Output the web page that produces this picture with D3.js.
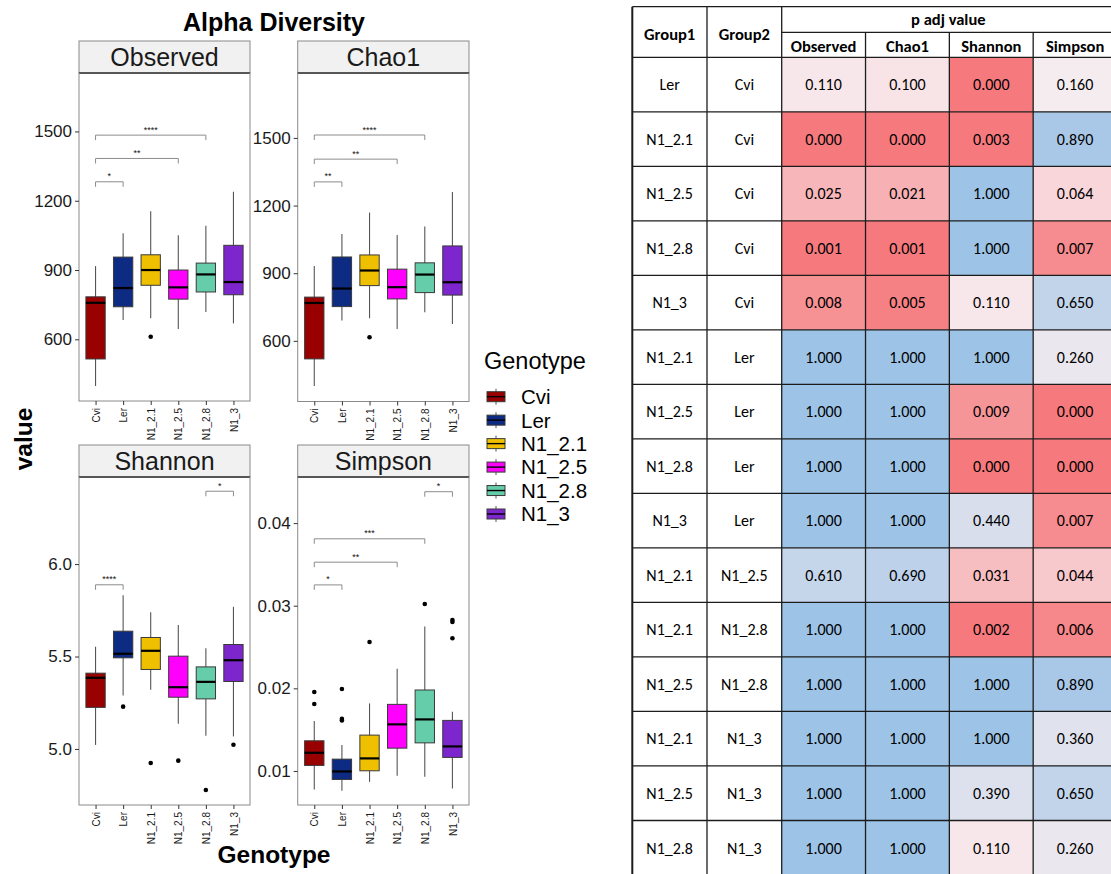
<!DOCTYPE html>
<html>
<head>
<meta charset="utf-8">
<script src="https://cdn.jsdelivr.net/npm/d3@7"></script>
<style>
  html, body { margin: 0; padding: 0; background: #fff; }
  svg { display: block; }
</style>
</head>
<body>
<svg id="fig" width="1111" height="874"></svg>
<script>
// ---- Genotypes and box statistics: [lower whisker, Q1, median, Q3, upper whisker]
const genotypes = ["Cvi", "Ler", "N1_2.1", "N1_2.5", "N1_2.8", "N1_3"];
const genotypeColors = ["#990000", "#0d2b83", "#efc000", "#ff00ff", "#66cdaa", "#7d26cd"];

const observedStats = [
  [398, 515, 758, 784, 917],
  [684, 741, 822, 956, 1059],
  [691, 834, 900, 966, 1154],
  [645, 774, 825, 900, 1051],
  [718, 805, 881, 930, 1092],
  [669, 793, 848, 1007, 1239]
];
const observedOutliers = [[], [], [611], [], [], []];
const observedSig = [["Cvi", "Ler", 1282, "*"], ["Cvi", "N1_2.5", 1383, "**"], ["Cvi", "N1_2.8", 1484, "****"]];
const observedTicks = [600, 900, 1200, 1500];
const observedDomain = [333, 1753];

const chao1Stats = [
  [400, 520, 768, 794, 932],
  [690, 752, 832, 972, 1074],
  [700, 845, 912, 981, 1169],
  [653, 786, 838, 918, 1070],
  [727, 814, 894, 946, 1107],
  [675, 803, 860, 1021, 1260]
];
const chao1Outliers = [[], [], [616], [], [], []];
const chao1Sig = [["Cvi", "Ler", 1305, "**"], ["Cvi", "N1_2.5", 1406, "**"], ["Cvi", "N1_2.8", 1513, "****"]];
const chao1Ticks = [600, 900, 1200, 1500];
const chao1Domain = [331, 1788];

const shannonStats = [
  [5.022, 5.225, 5.385, 5.410, 5.553],
  [5.289, 5.493, 5.515, 5.637, 5.832],
  [5.321, 5.430, 5.531, 5.603, 5.740],
  [5.137, 5.280, 5.334, 5.502, 5.670],
  [5.072, 5.271, 5.363, 5.444, 5.545],
  [5.068, 5.365, 5.480, 5.565, 5.769]
];
const shannonOutliers = [[], [5.229], [4.924], [4.937], [4.778], [5.023]];
const shannonSig = [["Cvi", "Ler", 5.888, "****"], ["N1_2.8", "N1_3", 6.394, "*"]];
const shannonTicks = [5.0, 5.5, 6.0];
const shannonDomain = [4.697, 6.471];

const simpsonStats = [
  [0.00776, 0.01067, 0.01220, 0.01365, 0.01604],
  [0.00759, 0.00897, 0.00994, 0.01143, 0.01313],
  [0.00868, 0.01002, 0.01152, 0.01434, 0.01818],
  [0.00941, 0.01276, 0.01564, 0.01806, 0.02238],
  [0.00929, 0.01340, 0.01624, 0.01980, 0.02747],
  [0.00788, 0.01164, 0.01297, 0.01612, 0.01717]
];
const simpsonOutliers = [[0.01955, 0.0181], [0.01992, 0.0163, 0.0161], [0.02561], [], [0.0302], [0.02828, 0.02804, 0.02606]];
const simpsonSig = [["Cvi", "Ler", 0.03252, "*"], ["Cvi", "N1_2.5", 0.03527, "**"], ["Cvi", "N1_2.8", 0.0381, "***"], ["N1_2.8", "N1_3", 0.0438, "*"]];
const simpsonTicks = [0.01, 0.02, 0.03, 0.04];
const simpsonDomain = [0.00588, 0.04558];

// ---- Pairwise comparison table (adjusted p values)
const group1 = ["Ler", "N1_2.1", "N1_2.5", "N1_2.8", "N1_3", "N1_2.1", "N1_2.5", "N1_2.8", "N1_3", "N1_2.1", "N1_2.1", "N1_2.5", "N1_2.1", "N1_2.5", "N1_2.8"];
const group2 = ["Cvi", "Cvi", "Cvi", "Cvi", "Cvi", "Ler", "Ler", "Ler", "Ler", "N1_2.5", "N1_2.8", "N1_2.8", "N1_3", "N1_3", "N1_3"];
const metricNames = ["Observed", "Chao1", "Shannon", "Simpson"];
const pObserved = [0.110, 0.000, 0.025, 0.001, 0.008, 1.000, 1.000, 1.000, 1.000, 0.610, 1.000, 1.000, 1.000, 1.000, 1.000];
const pChao1    = [0.100, 0.000, 0.021, 0.001, 0.005, 1.000, 1.000, 1.000, 1.000, 0.690, 1.000, 1.000, 1.000, 1.000, 1.000];
const pShannon  = [0.000, 0.003, 1.000, 1.000, 0.110, 1.000, 0.009, 0.000, 0.440, 0.031, 0.002, 1.000, 1.000, 0.390, 0.110];
const pSimpson  = [0.160, 0.890, 0.064, 0.007, 0.650, 0.260, 0.000, 0.000, 0.007, 0.044, 0.006, 0.890, 0.360, 0.650, 0.260];

// ---------------------------------------------------------------------------
const svg = d3.select("#fig");
const FONT = "'Liberation Sans', Arial, Helvetica, sans-serif";
const TFONT = "Carlito, Calibri, Lato, 'Liberation Sans', sans-serif";

svg.append("rect").attr("width", 1111).attr("height", 874).attr("fill", "#fff");

const panels = [
  { name: "Observed", stats: observedStats, out: observedOutliers, sig: observedSig, ticks: observedTicks, domain: observedDomain, fmt: d3.format("d"),   x0: 79,    x1: 250, top: 41,  bottom: 401 },
  { name: "Chao1",    stats: chao1Stats,    out: chao1Outliers,    sig: chao1Sig,    ticks: chao1Ticks,    domain: chao1Domain,    fmt: d3.format("d"),   x0: 297.7, x1: 469, top: 41,  bottom: 401.5 },
  { name: "Shannon",  stats: shannonStats,  out: shannonOutliers,  sig: shannonSig,  ticks: shannonTicks,  domain: shannonDomain,  fmt: d3.format(".1f"), x0: 79,    x1: 250, top: 445, bottom: 805 },
  { name: "Simpson",  stats: simpsonStats,  out: simpsonOutliers,  sig: simpsonSig,  ticks: simpsonTicks,  domain: simpsonDomain,  fmt: d3.format(".2f"), x0: 297.7, x1: 469, top: 445, bottom: 805 }
];
const STRIP = 32;

panels.forEach(p => {
  const g = svg.append("g");
  const plotTop = p.top + STRIP;
  const x = d3.scalePoint().domain(genotypes).range([p.x0, p.x1]).padding(0.6);
  const y = d3.scaleLinear().domain(p.domain).range([p.bottom, plotTop]);
  const bw = x.step() * 0.7;

  // strip
  g.append("rect").attr("x", p.x0).attr("y", p.top).attr("width", p.x1 - p.x0).attr("height", STRIP)
    .attr("fill", "#f1f1f1").attr("stroke", "#8a8a8a").attr("stroke-width", 1);
  g.append("line").attr("x1", p.x0).attr("x2", p.x1).attr("y1", plotTop).attr("y2", plotTop)
    .attr("stroke", "#222").attr("stroke-width", 2);
  g.append("text").attr("x", (p.x0 + p.x1) / 2).attr("y", p.top + STRIP / 2).attr("dy", "0.36em")
    .attr("text-anchor", "middle").attr("font-family", FONT).attr("font-size", 25).attr("fill", "#1a1a1a")
    .text(p.name);

  // panel border
  g.append("rect").attr("x", p.x0).attr("y", plotTop).attr("width", p.x1 - p.x0).attr("height", p.bottom - plotTop)
    .attr("fill", "none").attr("stroke", "#8a8a8a").attr("stroke-width", 1);

  // axes
  const ya = g.append("g").attr("transform", `translate(${p.x0},0)`)
    .call(d3.axisLeft(y).tickValues(p.ticks).tickFormat(p.fmt).tickSize(4).tickPadding(3));
  ya.select(".domain").remove();
  ya.selectAll("line").attr("stroke", "#333");
  ya.selectAll("text").attr("font-family", FONT).attr("font-size", 17).attr("fill", "#1a1a1a");

  const xa = g.append("g").attr("transform", `translate(0,${p.bottom})`)
    .call(d3.axisBottom(x).tickSize(4));
  xa.select(".domain").remove();
  xa.selectAll("line").attr("stroke", "#333");
  xa.selectAll("text")
    .attr("font-family", FONT).attr("font-size", 10).attr("fill", "#1a1a1a")
    .attr("transform", "rotate(-90)").attr("text-anchor", "end")
    .attr("x", -7).attr("y", 0).attr("dy", "0.36em");

  // boxes
  const boxes = g.selectAll("g.box").data(genotypes).join("g").attr("class", "box");
  boxes.each(function (gt, i) {
    const s = p.stats[i];
    const cx = x(gt);
    const b = d3.select(this);
    b.append("line").attr("x1", cx).attr("x2", cx).attr("y1", y(s[0])).attr("y2", y(s[4]))
      .attr("stroke", "#555").attr("stroke-width", 1.1);
    b.append("rect").attr("x", cx - bw / 2).attr("width", bw)
      .attr("y", y(s[3])).attr("height", y(s[1]) - y(s[3]))
      .attr("fill", genotypeColors[i]).attr("stroke", "#3a3a3a").attr("stroke-width", 1);
    b.append("line").attr("x1", cx - bw / 2).attr("x2", cx + bw / 2).attr("y1", y(s[2])).attr("y2", y(s[2]))
      .attr("stroke", "#000").attr("stroke-width", 2.2);
    b.selectAll("circle").data(p.out[i]).join("circle")
      .attr("cx", cx).attr("cy", v => y(v)).attr("r", 2.3).attr("fill", "#000");
  });

  // significance brackets
  p.sig.forEach(([a, c, v, lab]) => {
    const xa1 = x(a), xa2 = x(c), yy = y(v);
    g.append("path")
      .attr("d", `M${xa1},${yy + 5}V${yy}H${xa2}V${yy + 5}`)
      .attr("fill", "none").attr("stroke", "#8c8c8c").attr("stroke-width", 1);
    g.append("text").attr("x", (xa1 + xa2) / 2).attr("y", yy - 2.5)
      .attr("text-anchor", "middle").attr("font-family", FONT).attr("font-size", 9).attr("fill", "#111")
      .text(lab);
  });
});

// titles
svg.append("text").attr("x", 274).attr("y", 31).attr("text-anchor", "middle")
  .attr("font-family", FONT).attr("font-weight", "bold").attr("font-size", 25).attr("fill", "#000")
  .text("Alpha Diversity");
svg.append("text").attr("x", 274).attr("y", 863).attr("text-anchor", "middle")
  .attr("font-family", FONT).attr("font-weight", "bold").attr("font-size", 24.5).attr("fill", "#000")
  .text("Genotype");
svg.append("text").attr("transform", "translate(32,439) rotate(-90)").attr("text-anchor", "middle")
  .attr("font-family", FONT).attr("font-weight", "bold").attr("font-size", 24.5).attr("fill", "#000")
  .text("value");

// legend
const lg = svg.append("g");
lg.append("text").attr("x", 484).attr("y", 369).attr("font-family", FONT).attr("font-size", 23.5).attr("fill", "#000")
  .text("Genotype");
const ly = d3.scalePoint().domain(genotypes).range([396.7, 514]);
genotypes.forEach((gt, i) => {
  const cy = ly(gt), cx = 496;
  lg.append("line").attr("x1", cx).attr("x2", cx).attr("y1", cy - 8).attr("y2", cy + 8).attr("stroke", "#555").attr("stroke-width", 1);
  lg.append("rect").attr("x", cx - 9).attr("y", cy - 5).attr("width", 18).attr("height", 10)
    .attr("fill", genotypeColors[i]).attr("stroke", "#3a3a3a").attr("stroke-width", 1);
  lg.append("line").attr("x1", cx - 9).attr("x2", cx + 9).attr("y1", cy).attr("y2", cy).attr("stroke", "#000").attr("stroke-width", 1.4);
  lg.append("text").attr("x", 521).attr("y", cy).attr("dy", "0.36em")
    .attr("font-family", FONT).attr("font-size", 20.5).attr("fill", "#000").text(gt);
});

// ---- table
const tg = svg.append("g");
const rowIdx = d3.range(group1.length);
const rowY = d3.scaleBand().domain(rowIdx).range([57.3, 875]);
const grpX = d3.scaleBand().domain(["Group1", "Group2"]).range([632.3, 781.7]);
const metX = d3.scaleBand().domain(metricNames).range([781.7, 1117]);
const headTop = 6.7, headMid = 32.3, headBot = 57.3;

const RED = "#f67a7d", MID = "#f8edf0", BLUE = "#9dc3e6";
const redSide = d3.scaleLog().domain([0.004, 0.13]).range([RED, MID]).interpolate(d3.interpolateRgb).clamp(true);
const blueSide = d3.scaleLinear().domain([0.13, 1]).range([MID, BLUE]).interpolate(d3.interpolateRgb).clamp(true);
const pColor = v => v < 0.13 ? redSide(Math.max(v, 0.004)) : blueSide(v);

const pCols = [pObserved, pChao1, pShannon, pSimpson];
const fmt3 = d3.format(".3f");

// header background
tg.append("rect").attr("x", 632.3).attr("y", headTop).attr("width", 1117 - 632.3).attr("height", headBot - headTop).attr("fill", "#fff");

// body cells
rowIdx.forEach(r => {
  ["Group1", "Group2"].forEach((c, j) => {
    tg.append("rect").attr("x", grpX(c)).attr("y", rowY(r)).attr("width", grpX.bandwidth()).attr("height", rowY.bandwidth())
      .attr("fill", "#fff");
    tg.append("text").attr("x", grpX(c) + grpX.bandwidth() / 2).attr("y", rowY(r) + rowY.bandwidth() / 2).attr("dy", "0.36em")
      .attr("text-anchor", "middle").attr("font-family", TFONT).attr("font-size", 16).attr("fill", "#000")
      .text(j === 0 ? group1[r] : group2[r]);
  });
  metricNames.forEach((m, k) => {
    const v = pCols[k][r];
    tg.append("rect").attr("x", metX(m)).attr("y", rowY(r)).attr("width", metX.bandwidth()).attr("height", rowY.bandwidth())
      .attr("fill", pColor(v));
    tg.append("text").attr("x", metX(m) + metX.bandwidth() / 2).attr("y", rowY(r) + rowY.bandwidth() / 2).attr("dy", "0.36em")
      .attr("text-anchor", "middle").attr("font-family", TFONT).attr("font-size", 16).attr("fill", "#000")
      .text(fmt3(v));
  });
});

// header text
["Group1", "Group2"].forEach(c => {
  tg.append("text").attr("x", grpX(c) + grpX.bandwidth() / 2).attr("y", (headTop + headBot) / 2 + 2).attr("dy", "0.36em")
    .attr("text-anchor", "middle").attr("font-family", TFONT).attr("font-weight", "bold").attr("font-size", 16.5).attr("fill", "#000")
    .text(c);
});
tg.append("text").attr("x", (781.7 + 1117) / 2 - 1).attr("y", (headTop + headMid) / 2).attr("dy", "0.36em")
  .attr("text-anchor", "middle").attr("font-family", TFONT).attr("font-weight", "bold").attr("font-size", 16.5).attr("fill", "#000")
  .text("p adj value");
metricNames.forEach(m => {
  tg.append("text").attr("x", metX(m) + metX.bandwidth() / 2).attr("y", (headMid + headBot) / 2 + 1).attr("dy", "0.36em")
    .attr("text-anchor", "middle").attr("font-family", TFONT).attr("font-weight", "bold").attr("font-size", 16.5).attr("fill", "#000")
    .text(m);
});

// grid lines
const LINE = "#1c1c1c";
const hLines = [headTop, headBot].concat(rowIdx.map(r => rowY(r) + rowY.bandwidth()));
hLines.forEach(yv => {
  tg.append("line").attr("x1", 632.3).attr("x2", 1117).attr("y1", yv).attr("y2", yv).attr("stroke", LINE).attr("stroke-width", 1.3);
});
tg.append("line").attr("x1", 781.7).attr("x2", 1117).attr("y1", headMid).attr("y2", headMid).attr("stroke", LINE).attr("stroke-width", 1.3);
const vFull = [632.3, grpX("Group2"), 781.7, 1117];
vFull.forEach(xv => {
  tg.append("line").attr("x1", xv).attr("x2", xv).attr("y1", headTop).attr("y2", 875).attr("stroke", LINE).attr("stroke-width", xv === 632.3 ? 2 : 1.3);
});
metricNames.slice(1).forEach(m => {
  tg.append("line").attr("x1", metX(m)).attr("x2", metX(m)).attr("y1", headMid).attr("y2", 875).attr("stroke", LINE).attr("stroke-width", 1.3);
});
</script>
</body>
</html>
